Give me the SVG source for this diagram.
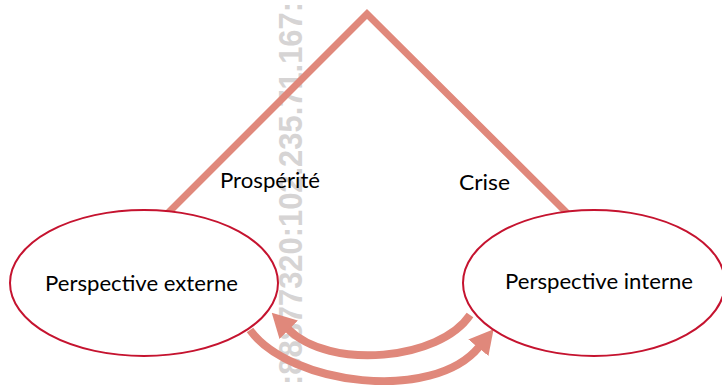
<svg xmlns="http://www.w3.org/2000/svg" width="722" height="385" viewBox="0 0 722 385">
  <style>
    .wm { font-family: "Liberation Sans", Arial, sans-serif; font-weight: bold; font-size: 34px; fill: #d6d4d4; }
    .link { fill: none; stroke: #e0887b; stroke-width: 7; stroke-linejoin: miter; }
    .arc { fill: none; stroke: #e0887b; stroke-width: 8; }
    .node { fill: #ffffff; stroke: #c5132f; stroke-width: 2; }
    .lbl { font-family: Lato, "Open Sans", sans-serif; font-size: 22px; fill: #000000; }
  </style>
  <defs>
    <marker id="head" markerUnits="userSpaceOnUse" markerWidth="24" markerHeight="26" viewBox="0 0 24 26" refX="1" refY="13" orient="auto">
      <path d="M0,0 L24,13 L0,26 z" fill="#e0887b"/>
    </marker>
  </defs>

  <!-- vertical stamp behind the drawing -->
  <text class="wm" transform="translate(302,385) rotate(-90)" x="0" y="0" textLength="383" lengthAdjust="spacingAndGlyphs">:88877320:102.235.71.167:</text>

  <g id="connectors">
    <polyline class="link" points="165,216 367,14 570,216"/>
    <path class="arc" d="M470,315 C440,360 330,371 288,329" marker-end="url(#head)"/>
    <path class="arc" d="M250,330 C290,385 433,403 479,347" marker-end="url(#head)"/>
    <text class="lbl" x="220" y="188" textLength="100" lengthAdjust="spacingAndGlyphs">Prospérité</text>
    <text class="lbl" x="459" y="190" textLength="51" lengthAdjust="spacingAndGlyphs">Crise</text>
  </g>

  <g id="perspective-externe">
    <ellipse class="node" cx="144" cy="283" rx="134" ry="73"/>
    <text class="lbl" x="45" y="291" textLength="193" lengthAdjust="spacingAndGlyphs">Perspective externe</text>
  </g>

  <g id="perspective-interne">
    <ellipse class="node" cx="594" cy="283" rx="131" ry="73"/>
    <text class="lbl" x="505" y="289" textLength="188" lengthAdjust="spacingAndGlyphs">Perspective interne</text>
  </g>
</svg>
